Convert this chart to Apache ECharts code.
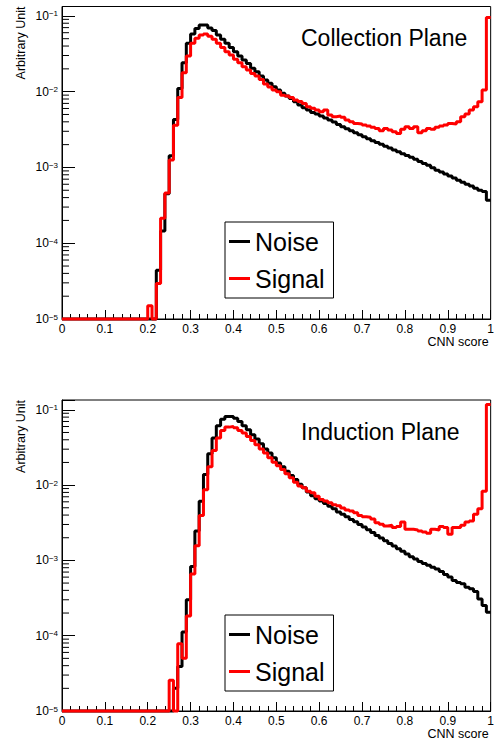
<!DOCTYPE html>
<html>
<head>
<meta charset="utf-8">
<script src="https://cdn.jsdelivr.net/npm/echarts@6/dist/echarts.min.js"></script>
<style>
html,body{margin:0;padding:0;background:#fff;}
#chart{width:497px;height:740px;}
</style>
</head>
<body>
<div id="chart"></div>
<script>
// ---- data (100 bins of width 0.01 on [0,1]) ----
const binWidth = 0.01;
const xTickLabels = ['0','0.1','0.2','0.3','0.4','0.5','0.6','0.7','0.8','0.9','1'];
const panelTitles = ['Collection Plane', 'Induction Plane'];
const seriesNames = ['Noise', 'Signal'];

const collectionNoise = [
0,0,0,0,0,0,0,0,0,0, 0,0,0,0,0,0,0,0,0,0,
0,0,4.4e-5,1.45e-4,4.5e-4,1.43e-3,4.3e-3,1.10e-2,2.41e-2,4.34e-2,
5.75e-2,6.8e-2,7.6e-2,7.6e-2,6.9e-2,6.4e-2,5.6e-2,4.9e-2,4.34e-2,3.84e-2,
3.37e-2,2.95e-2,2.61e-2,2.36e-2,2.03e-2,1.83e-2,1.61e-2,1.42e-2,1.29e-2,1.16e-2,
1.05e-2,9.5e-3,8.75e-3,8.15e-3,7.36e-3,6.65e-3,6.14e-3,5.71e-3,5.3e-3,5.06e-3,
4.77e-3,4.48e-3,4.22e-3,3.97e-3,3.70e-3,3.45e-3,3.24e-3,3.05e-3,2.87e-3,2.70e-3,
2.54e-3,2.39e-3,2.25e-3,2.14e-3,2.02e-3,1.90e-3,1.80e-3,1.70e-3,1.61e-3,1.52e-3,
1.44e-3,1.36e-3,1.28e-3,1.20e-3,1.13e-3,1.07e-3,9.9e-4,9.2e-4,8.7e-4,8.2e-4,
7.7e-4,7.25e-4,6.8e-4,6.4e-4,6.0e-4,5.7e-4,5.3e-4,5.0e-4,4.8e-4,3.7e-4
];
const collectionSignal = [
0,0,0,0,0,0,0,0,0,0, 0,0,0,0,0,0,0,0,0,0,
1.5e-5,0,2.95e-5,2.13e-4,4.6e-4,1.25e-3,3.6e-3,8.4e-3,1.78e-2,2.95e-2,
4.34e-2,5.05e-2,5.58e-2,5.75e-2,5.4e-2,4.9e-2,4.34e-2,3.84e-2,3.37e-2,3.04e-2,
2.67e-2,2.41e-2,2.13e-2,1.93e-2,1.74e-2,1.61e-2,1.45e-2,1.26e-2,1.15e-2,1.05e-2,
1.00e-2,9.0e-3,8.75e-3,8.4e-3,7.74e-3,7.4e-3,7.0e-3,6.33e-3,6.02e-3,5.72e-3,
5.43e-3,5.72e-3,4.91e-3,4.67e-3,4.76e-3,4.58e-3,4.22e-3,4.01e-3,3.81e-3,3.74e-3,
3.62e-3,3.52e-3,3.38e-3,3.27e-3,3.05e-3,3.27e-3,3.11e-3,2.96e-3,2.81e-3,3.18e-3,
3.45e-3,3.27e-3,3.45e-3,2.87e-3,3.05e-3,3.27e-3,3.18e-3,3.38e-3,3.52e-3,3.62e-3,
3.81e-3,3.74e-3,4.01e-3,4.67e-3,5.06e-3,5.72e-3,6.33e-3,7.36e-3,1.05e-2,9.5e-2
];
const inductionNoise = [
0,0,0,0,0,0,0,0,0,0, 0,0,0,0,0,0,0,0,0,0,
0,0,0,0,0,0,2.0e-5,3.9e-5,1.12e-4,3.0e-4,
8.3e-4,2.46e-3,6.1e-3,1.38e-2,2.61e-2,4.22e-2,6.12e-2,7.51e-2,8.13e-2,8.13e-2,
7.75e-2,6.98e-2,6.12e-2,5.42e-2,4.66e-2,4.09e-2,3.54e-2,3.02e-2,2.67e-2,2.30e-2,
1.97e-2,1.75e-2,1.53e-2,1.34e-2,1.19e-2,1.03e-2,9.2e-3,8.1e-3,7.2e-3,6.59e-3,
6.13e-3,5.71e-3,5.25e-3,4.85e-3,4.4e-3,4.1e-3,3.8e-3,3.5e-3,3.25e-3,3.0e-3,
2.78e-3,2.55e-3,2.35e-3,2.15e-3,1.98e-3,1.82e-3,1.68e-3,1.55e-3,1.43e-3,1.32e-3,
1.22e-3,1.12e-3,1.04e-3,9.7e-4,9.1e-4,8.6e-4,8.1e-4,7.7e-4,7.1e-4,6.5e-4,
6.0e-4,5.4e-4,5.1e-4,4.9e-4,4.4e-4,4.2e-4,3.85e-4,3.08e-4,2.52e-4,2.05e-4
];
const inductionSignal = [
0,0,0,0,0,0,0,0,0,0, 0,0,0,0,0,0,0,0,0,0,
0,0,0,0,0,2.57e-5,0,7.8e-5,5.0e-5,1.82e-4,
6.6e-4,1.56e-3,3.96e-3,8.7e-3,1.75e-2,2.89e-2,4.22e-2,5.31e-2,5.89e-2,6.0e-2,
5.8e-2,5.31e-2,4.91e-2,4.43e-2,3.92e-2,3.44e-2,3.02e-2,2.67e-2,2.30e-2,2.01e-2,
1.81e-2,1.61e-2,1.42e-2,1.25e-2,1.09e-2,9.7e-3,9.2e-3,8.3e-3,7.9e-3,7.1e-3,
6.45e-3,6.13e-3,5.83e-3,5.5e-3,5.3e-3,4.95e-3,4.67e-3,4.53e-3,4.30e-3,3.95e-3,
3.80e-3,3.75e-3,3.55e-3,3.17e-3,3.02e-3,2.87e-3,2.93e-3,2.73e-3,2.81e-3,3.24e-3,
2.59e-3,2.59e-3,2.54e-3,2.46e-3,2.39e-3,2.30e-3,2.59e-3,2.54e-3,2.81e-3,2.73e-3,
2.22e-3,2.73e-3,2.73e-3,2.93e-3,3.24e-3,3.34e-3,4.09e-3,4.86e-3,8.3e-3,0.118
];

// ---- layout / style ----
const FONT = '"Liberation Sans", Arial, Helvetica, sans-serif';
const YMIN = 1e-5;
const LINE_ICON = 'path://M0,0 L21,0 L21,3 L0,3 Z';
const panels = [
  { top: 6.5, height: 312.5, ymax: 0.133, noise: collectionNoise, signal: collectionSignal, title: panelTitles[0], titleY: 37.7, legendTop: 222 },
  { top: 400, height: 312.7, ymax: 0.135, noise: inductionNoise, signal: inductionSignal, title: panelTitles[1], titleY: 431.5, legendTop: 615 }
];

function histPoints(vals) {
  const pts = vals.map((v, i) => [+(i * binWidth).toFixed(2), Math.max(v, YMIN)]);
  pts.push([+(vals.length * binWidth).toFixed(2), Math.max(vals[vals.length - 1], YMIN)]);
  return pts;
}
function minorTickValues(ymax) {
  const out = [];
  for (let e = -5; e <= -1; e++) {
    for (let k = 2; k <= 9; k++) {
      const v = k * Math.pow(10, e);
      if (v < ymax) out.push([0, v]);
    }
  }
  return out;
}

const grids = [], xAxes = [], yAxes = [], series = [], legends = [], titles = [];
panels.forEach((p, gi) => {
  grids.push({ left: 62, top: p.top, width: 434, height: p.height, show: true, borderColor: '#000', borderWidth: 1, backgroundColor: '#fff' });
  xAxes.push({
    gridIndex: gi, type: 'value', min: 0, max: 1, interval: 0.1,
    axisLine: { onZero: false, lineStyle: { color: '#000', width: 1 } },
    axisTick: { inside: true, length: 9, lineStyle: { color: '#000' } },
    minorTick: { show: true, splitNumber: 5, length: 5, lineStyle: { color: '#000' } },
    splitLine: { show: false },
    axisLabel: { color: '#000', fontSize: 12, fontFamily: FONT, margin: 4,
      formatter: (v) => xTickLabels[Math.round(v * 10)] },
    name: 'CNN score', nameLocation: 'end', nameGap: -2,
    nameTextStyle: { color: '#000', fontSize: 12.5, fontFamily: FONT, align: 'right', verticalAlign: 'top', padding: [16, 0, 0, 0] }
  });
  yAxes.push({
    gridIndex: gi, type: 'log', logBase: 10, min: YMIN, max: p.ymax,
    axisLine: { lineStyle: { color: '#000', width: 1 } },
    axisTick: { inside: true, length: 13, lineStyle: { color: '#000' } },
    splitLine: { show: false },
    axisLabel: {
      color: '#000', margin: 4, fontFamily: FONT,
      formatter: (v) => {
        const e = Math.log10(v), r = Math.round(e);
        if (Math.abs(e - r) > 1e-6) return '';
        return '{b|10}{s|' + (r < 0 ? '\u2212' : '') + Math.abs(r) + '}';
      },
      rich: {
        b: { fontSize: 12, fontFamily: FONT, color: '#000', verticalAlign: 'bottom' },
        s: { fontSize: 8, fontFamily: FONT, color: '#000', verticalAlign: 'top' }
      }
    },
    name: 'Arbitrary Unit', nameLocation: 'end', nameRotate: 90, nameGap: 0,
    nameTextStyle: { color: '#000', fontSize: 12.5, fontFamily: FONT, align: 'right', verticalAlign: 'bottom', padding: [0, 0, 35, 0] }
  });
  series.push({
    name: seriesNames[0], type: 'line', xAxisIndex: gi, yAxisIndex: gi, step: 'end',
    symbol: 'none', clip: false, data: histPoints(p.noise),
    lineStyle: { color: '#000', width: 3 }, itemStyle: { color: '#000' }, z: 3
  });
  series.push({
    name: seriesNames[1], type: 'line', xAxisIndex: gi, yAxisIndex: gi, step: 'end',
    symbol: 'none', clip: false, data: histPoints(p.signal),
    lineStyle: { color: '#ff0000', width: 3 }, itemStyle: { color: '#ff0000' }, z: 4
  });
  series.push({
    type: 'custom', xAxisIndex: gi, yAxisIndex: gi, silent: true, z: 5,
    data: minorTickValues(p.ymax),
    renderItem: (params, api) => {
      const c = api.coord([api.value(0), api.value(1)]);
      return { type: 'line', shape: { x1: c[0], y1: c[1], x2: c[0] + 7, y2: c[1] }, style: { stroke: '#000', lineWidth: 1 } };
    }
  });
  legends.push({
    data: seriesNames.map(n => ({ name: n, icon: LINE_ICON })),
    orient: 'vertical', left: 225, top: p.legendTop,
    itemWidth: 21, itemHeight: 25, itemGap: 12, padding: [7, 9, 7, 4],
    symbolKeepAspect: true,
    borderColor: '#000', borderWidth: 1, backgroundColor: '#fff',
    textStyle: { color: '#000', fontSize: 25, fontFamily: FONT },
    selectedMode: false
  });
  titles.push({
    text: p.title, left: 301, top: p.titleY - 11.5, padding: 0,
    textStyle: { color: '#000', fontSize: 23, fontWeight: 'normal', fontFamily: FONT }
  });
});

const chart = echarts.init(document.getElementById('chart'), null, { renderer: 'svg' });
chart.setOption({
  backgroundColor: '#fff',
  animation: false,
  title: titles,
  legend: legends,
  grid: grids,
  xAxis: xAxes,
  yAxis: yAxes,
  series: series
});
</script>
</body>
</html>
